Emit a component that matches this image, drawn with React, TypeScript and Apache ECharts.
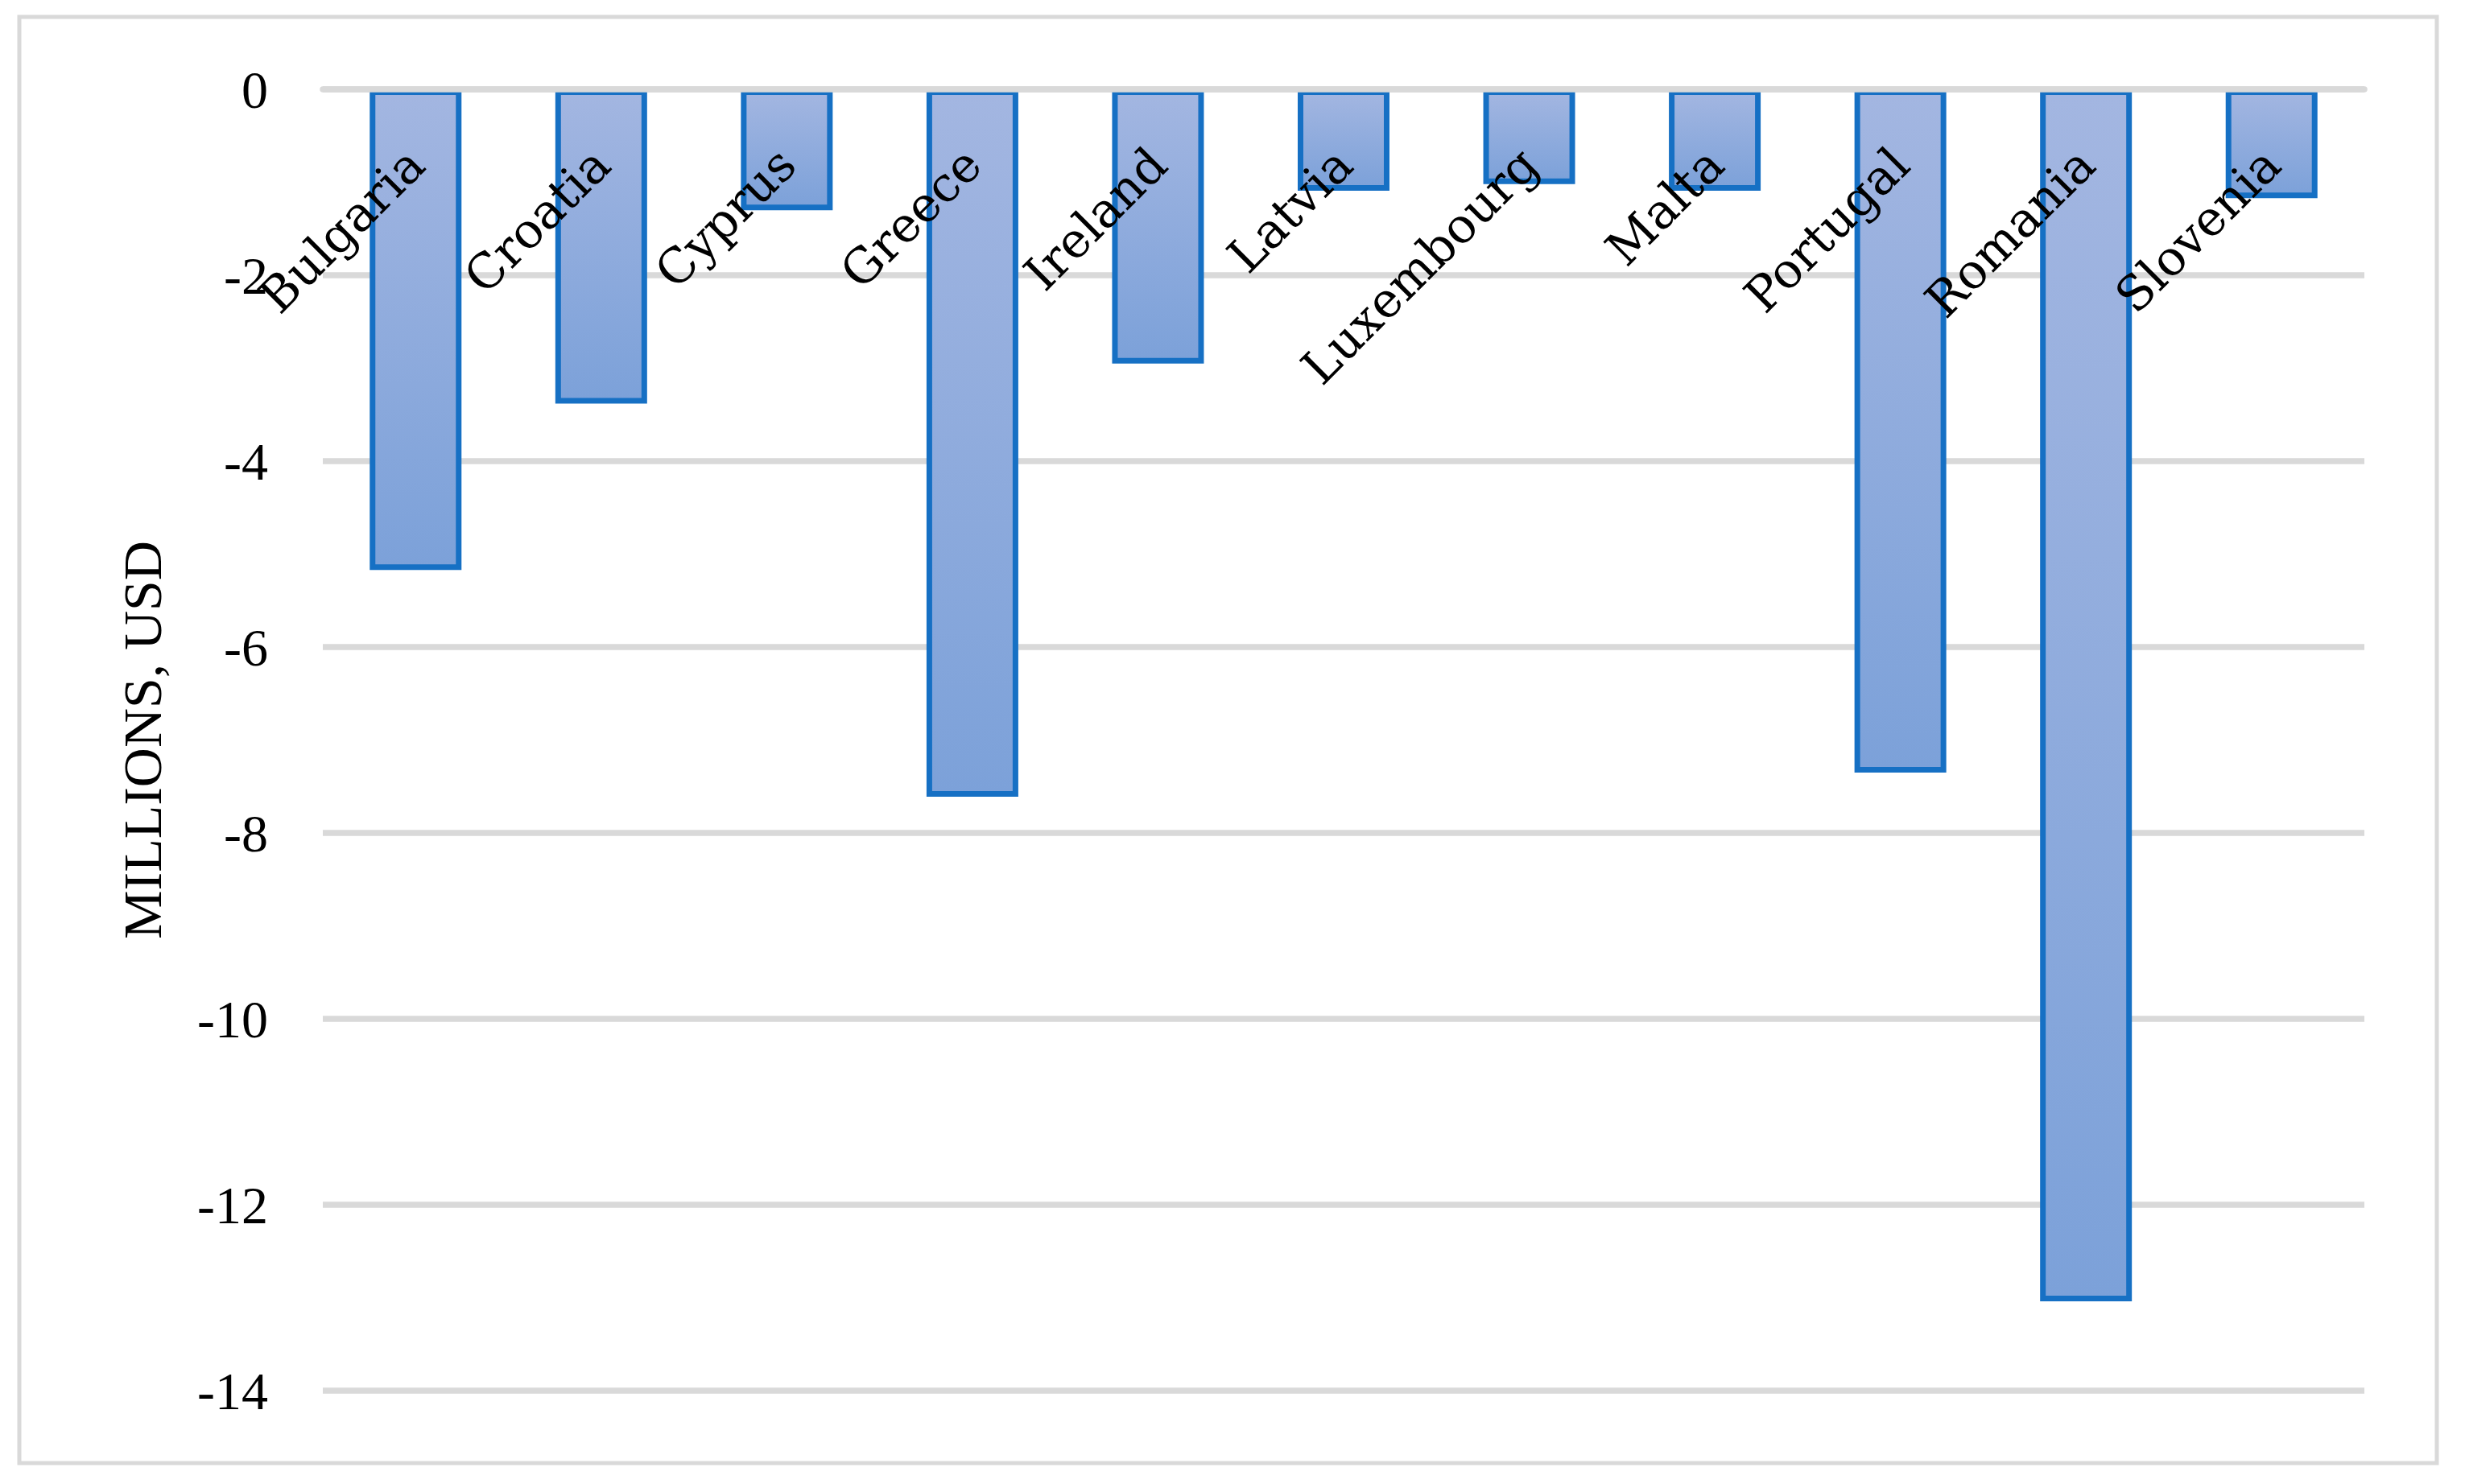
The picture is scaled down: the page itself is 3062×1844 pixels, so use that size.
import React, { useEffect, useRef } from "react";
import * as echarts from "echarts";

const categories = [
  "Bulgaria",
  "Croatia",
  "Cyprus",
  "Greece",
  "Ireland",
  "Latvia",
  "Luxembourg",
  "Malta",
  "Portugal",
  "Romania",
  "Slovenia",
];
const values = [-5.17, -3.38, -1.3, -7.61, -2.95, -1.09, -1.02, -1.09, -7.35, -13.04, -1.17];
const yMin = -14;
const yMax = 0;
const yInterval = 2;
const yAxisName = "MILLIONS, USD";

export default function App() {
  const ref = useRef<HTMLDivElement>(null);
  useEffect(() => {
    document.body.style.margin = "0";
    const chart = echarts.init(ref.current!, null, { renderer: "svg" });
    chart.setOption({
      animation: false,
      backgroundColor: "#ffffff",
      graphic: [
        {
          type: "rect",
          shape: { x: 24, y: 21, width: 3003, height: 1797 },
          style: { fill: "none", stroke: "#d9d9d9", lineWidth: 5 },
          silent: true,
        },
      ],
      grid: {
        left: 401,
        right: 125,
        top: 111,
        bottom: 116,
        containLabel: false,
        outerBoundsMode: "none",
      },
      xAxis: {
        type: "category",
        data: categories,
        position: "top",
        z: 10,
        axisLine: { show: true, onZero: false, lineStyle: { color: "#d9d9d9", width: 7.5 } },
        axisTick: { show: false },
        axisLabel: {
          inside: true,
          interval: 0,
          rotate: -45,
          align: "right",
          verticalAlign: "middle",
          margin: 83,
          fontFamily: "DejaVu Serif",
          fontSize: 60,
          color: "#000000",
        },
      },
      yAxis: {
        type: "value",
        min: yMin,
        max: yMax,
        interval: yInterval,
        name: yAxisName,
        nameLocation: "middle",
        nameGap: 190,
        nameTextStyle: { fontFamily: "Liberation Serif", fontSize: 68, color: "#000000" },
        axisLine: { show: false },
        axisTick: { show: false },
        axisLabel: { margin: 68, fontFamily: "Liberation Serif", fontSize: 66, color: "#000000" },
        splitLine: { show: true, lineStyle: { color: "#d9d9d9", width: 7.5 } },
      },
      series: [
        {
          type: "bar",
          data: values,
          barWidth: 114,
          itemStyle: {
            color: new echarts.graphic.LinearGradient(0, 0, 0, 1, [
              { offset: 0, color: "#a3b6e1" },
              { offset: 1, color: "#7ca1d9" },
            ]),
            borderColor: "#1670c4",
            borderWidth: 7,
          },
        },
      ],
    });
    return () => chart.dispose();
  }, []);
  return <div ref={ref} style={{ width: 3062, height: 1844 }} />;
}
